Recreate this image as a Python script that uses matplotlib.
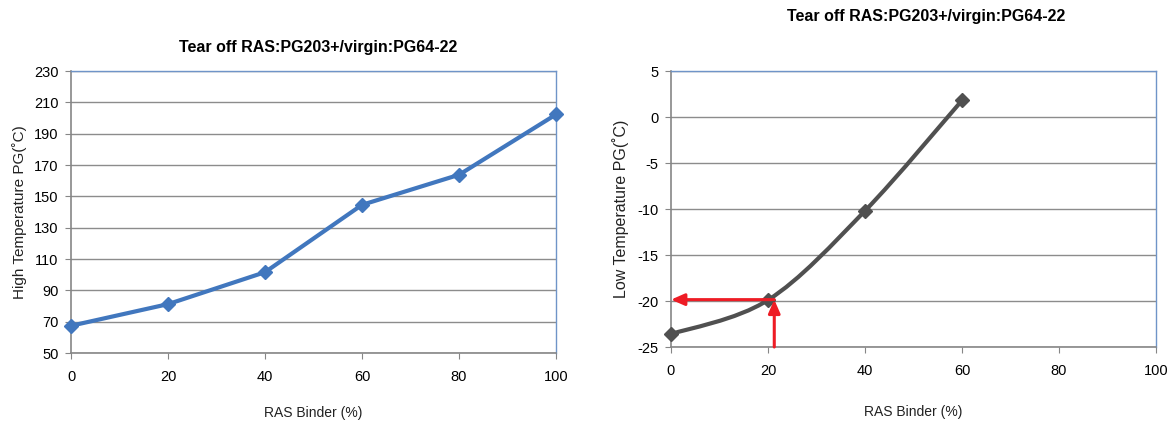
import numpy as np
import matplotlib
matplotlib.use('Agg')
import matplotlib.pyplot as plt
from matplotlib.path import Path
from matplotlib.patches import PathPatch

plt.rcParams['font.family'] = ['Liberation Sans', 'DejaVu Sans']
plt.rcParams['axes.unicode_minus'] = False

# Dane
ras_binder = [0, 20, 40, 60, 80, 100]
high_temp = [67.4, 81.2, 101.6, 144.6, 163.8, 202.3]

ras_binder_low = [0, 20, 40, 60]
low_temp = [-23.6, -19.9, -10.2, 1.8]

title = 'Tear off RAS:PG203+/virgin:PG64-22'
xlabel = 'RAS Binder (%)'
high_ylabel = 'High Temperature PG(˚C)'
low_ylabel = 'Low Temperature PG(˚C)'

# punkt odczytu (strzałki)
read_x = 21.3
read_y = -19.85

GRID = '#8c8c8c'
AXIS_GRAY = '#868686'
FRAME_BLUE = '#6f94c8'


def smooth_path(xs, ys):
    # krzywa Beziera jak "wygładzona linia" w Excelu
    pts = np.column_stack([xs, ys]).astype(float)
    n = len(pts)
    verts = [pts[0]]
    codes = [Path.MOVETO]
    for i in range(n - 1):
        p0 = pts[max(i - 1, 0)]
        p1 = pts[i]
        p2 = pts[i + 1]
        p3 = pts[min(i + 2, n - 1)]
        c1 = p1 + (p2 - p0) / 6.0
        c2 = p2 - (p3 - p1) / 6.0
        verts += [c1, c2, p2]
        codes += [Path.CURVE4] * 3
    return Path(verts, codes)


def style_axes(ax, ylim, yticks):
    ax.set_xlim(0, 100)
    ax.set_ylim(*ylim)
    ax.set_xticks(range(0, 101, 20))
    ax.set_yticks(yticks)
    ax.grid(axis='y', color=GRID, linewidth=1.0)
    ax.set_axisbelow(True)
    for s in ['top', 'right']:
        ax.spines[s].set_color(FRAME_BLUE)
        ax.spines[s].set_linewidth(1.0)
    for s in ['left', 'bottom']:
        ax.spines[s].set_color(AXIS_GRAY)
        ax.spines[s].set_linewidth(1.2)
    ax.tick_params(axis='both', direction='out', length=4, color=AXIS_GRAY,
                   labelsize=10.5, pad=5)
    ax.tick_params(axis='x', pad=8)


fig = plt.figure(figsize=(11.72, 4.22), dpi=100)

# Wykres lewy
ax1 = fig.add_axes([0.0606, 0.1635, 0.4138, 0.668])
style_axes(ax1, (50, 230), range(50, 231, 20))
ax1.plot(ras_binder, high_temp, color='#4177be', linewidth=3, marker='D',
         markersize=7, clip_on=False, zorder=5)
ax1.set_title(title, fontsize=11.5, fontweight='bold', pad=14, x=0.51)
ax1.set_xlabel(xlabel, fontsize=10, labelpad=16, color='#222222')
ax1.set_ylabel(high_ylabel, fontsize=11, labelpad=5, color='#222222')

# Wykres prawy
ax2 = fig.add_axes([0.5725, 0.1777, 0.4138, 0.654])
style_axes(ax2, (-25, 5), range(-25, 6, 5))
ax2.add_patch(PathPatch(smooth_path(ras_binder_low, low_temp), facecolor='none',
                        edgecolor='#505050', linewidth=3, zorder=5,
                        capstyle='round'))
ax2.plot(ras_binder_low, low_temp, linestyle='none', color='#505050',
         marker='D', markersize=7, clip_on=False, zorder=6)
ax2.set_title(title, fontsize=11.5, fontweight='bold', pad=36, x=0.527)
ax2.set_xlabel(xlabel, fontsize=10, labelpad=20, color='#222222')
ax2.set_ylabel(low_ylabel, fontsize=11.5, labelpad=6, color='#222222')

arrow = dict(arrowstyle='-|>,head_length=0.8,head_width=0.35', color='#ee1c25',
             linewidth=2.2, shrinkA=0, shrinkB=0)
ax2.annotate('', xy=(0, read_y), xytext=(read_x, read_y),
             arrowprops=arrow, zorder=7, annotation_clip=False)
ax2.annotate('', xy=(read_x, read_y), xytext=(read_x, -25),
             arrowprops=arrow, zorder=7, annotation_clip=False)

fig.savefig('out.png', dpi=100)
